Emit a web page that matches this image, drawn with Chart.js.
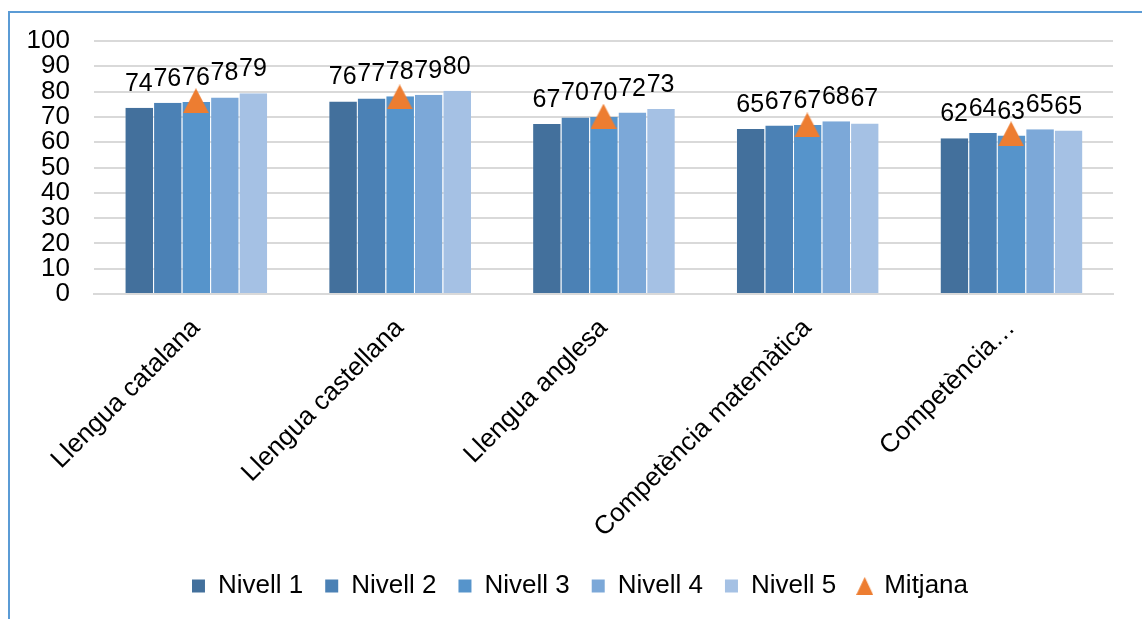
<!DOCTYPE html>
<html>
<head>
<meta charset="utf-8">
<script src="https://cdn.jsdelivr.net/npm/chart.js@4/dist/chart.umd.min.js"></script>
<style>
  html, body { margin: 0; padding: 0; background: #fff; }
  #frame {
    position: absolute; left: 8px; top: 11px; width: 1132px; height: 608px;
    border-top: 2px solid #5b9bd5; border-left: 2px solid #5b9bd5;
    border-right: 1px solid #e8e8e8;
  }
  #wrap { position: absolute; left: 0; top: 0; width: 1132px; height: 606px; }
</style>
</head>
<body>
<div id="frame"><div id="wrap"><canvas id="chart"></canvas></div></div>
<script>
const categories = ["Llengua catalana", "Llengua castellana", "Llengua anglesa", "Competència matemàtica", "Competència…"];
const seriesNames = ["Nivell 1", "Nivell 2", "Nivell 3", "Nivell 4", "Nivell 5"];
const nivell1 = [73.6, 76.1, 67.2, 65.2, 61.6];
const nivell2 = [75.6, 77.3, 69.8, 66.6, 63.6];
const nivell3 = [75.9, 78.2, 70.0, 66.8, 62.6];
const nivell4 = [77.7, 78.8, 71.7, 68.3, 65.1];
const nivell5 = [79.3, 80.3, 73.1, 67.4, 64.6];
const mitjana = [76.4, 77.9, 70.3, 66.8, 63.3];
const yTicks = [0, 10, 20, 30, 40, 50, 60, 70, 80, 90, 100];

const barColors = ["#43709c", "#4b81b5", "#5694cb", "#7ca8d8", "#a5c1e4"];
const orange = "#ed7d31";
const font = "'Liberation Sans', Arial, sans-serif";

// triangle marker, centred on its bounding box like Excel does
const makeTriangle = (w, h) => {
  const c = document.createElement("canvas");
  c.width = w; c.height = h;
  const g = c.getContext("2d");
  g.fillStyle = orange;
  g.beginPath();
  g.moveTo(w / 2, 0);
  g.lineTo(w, h);
  g.lineTo(0, h);
  g.closePath();
  g.fill();
  return c;
};
const bigTriangle = makeTriangle(26, 25);
const smallTriangle = makeTriangle(17, 18);

const valueLabels = {
  id: "valueLabels",
  afterDatasetsDraw(chart) {
    const ctx = chart.ctx;
    ctx.save();
    ctx.font = "25px " + font;
    ctx.fillStyle = "#000";
    ctx.textAlign = "center";
    ctx.textBaseline = "alphabetic";
    chart.data.datasets.forEach((ds, i) => {
      if (ds.type === "line") return;
      chart.getDatasetMeta(i).data.forEach((bar, j) => {
        ctx.fillText(Math.round(ds.data[j]), bar.x, bar.y - 17);
      });
    });
    ctx.restore();
  },
};

const levels = [nivell1, nivell2, nivell3, nivell4, nivell5];
const datasets = levels.map((values, i) => ({
  type: "bar",
  label: seriesNames[i],
  data: values,
  backgroundColor: barColors[i],
  borderColor: "rgba(255,255,255,0.3)",
  borderWidth: { left: 1, right: 0, top: 0, bottom: 0 },
  pointStyle: "rect",
  order: 1,
}));
datasets.push({
  type: "line",
  label: "Mitjana",
  data: mitjana,
  showLine: false,
  pointStyle: bigTriangle,
  pointRadius: 13,
  pointHoverRadius: 13,
  backgroundColor: orange,
  borderColor: orange,
  order: 0,
});

new Chart(document.getElementById("chart"), {
  type: "bar",
  data: { labels: categories, datasets: datasets },
  options: {
    responsive: true,
    maintainAspectRatio: false,
    animation: false,
    layout: { padding: { top: 0, right: 0, left: 8, bottom: 10 } },
    datasets: { bar: { categoryPercentage: 0.7, barPercentage: 1.0 } },
    plugins: {
      tooltip: { enabled: false },
      legend: {
        position: "bottom",
        labels: {
          usePointStyle: true,
          boxWidth: 13,
          boxHeight: 13,
          padding: 22,
          color: "#000",
          font: { family: font, size: 26 },
          sort: (a, b) => a.datasetIndex - b.datasetIndex,
          generateLabels(chart) {
            const items = Chart.defaults.plugins.legend.labels.generateLabels(chart);
            items.forEach((it) => {
              if (it.text === "Mitjana") it.pointStyle = smallTriangle;
              else it.pointStyle = "rect";
              it.lineWidth = 0;
            });
            return items;
          },
        },
      },
    },
    scales: {
      x: {
        grid: { display: false, drawTicks: false },
        border: { color: "#d9d9d9", width: 2 },
        ticks: {
          autoSkip: false,
          maxRotation: 45,
          minRotation: 45,
          padding: 19,
          color: "#000",
          font: { family: font, size: 26 },
        },
        afterFit: (s) => { s.height = 257; s.paddingLeft = 0; s.paddingRight = 29; },
      },
      y: {
        min: 0,
        max: 100,
        afterBuildTicks: (s) => { s.ticks = yTicks.map((v) => ({ value: v })); },
        grid: { color: "#d9d9d9", lineWidth: 2, drawTicks: false },
        border: { display: false },
        ticks: {
          autoSkip: false,
          padding: 24,
          color: "#000",
          font: { family: font, size: 26 },
        },
        afterFit: (s) => { s.width = 76; s.paddingTop = 28; s.paddingBottom = 0; },
      },
    },
  },
  plugins: [valueLabels],
});
</script>
</body>
</html>
